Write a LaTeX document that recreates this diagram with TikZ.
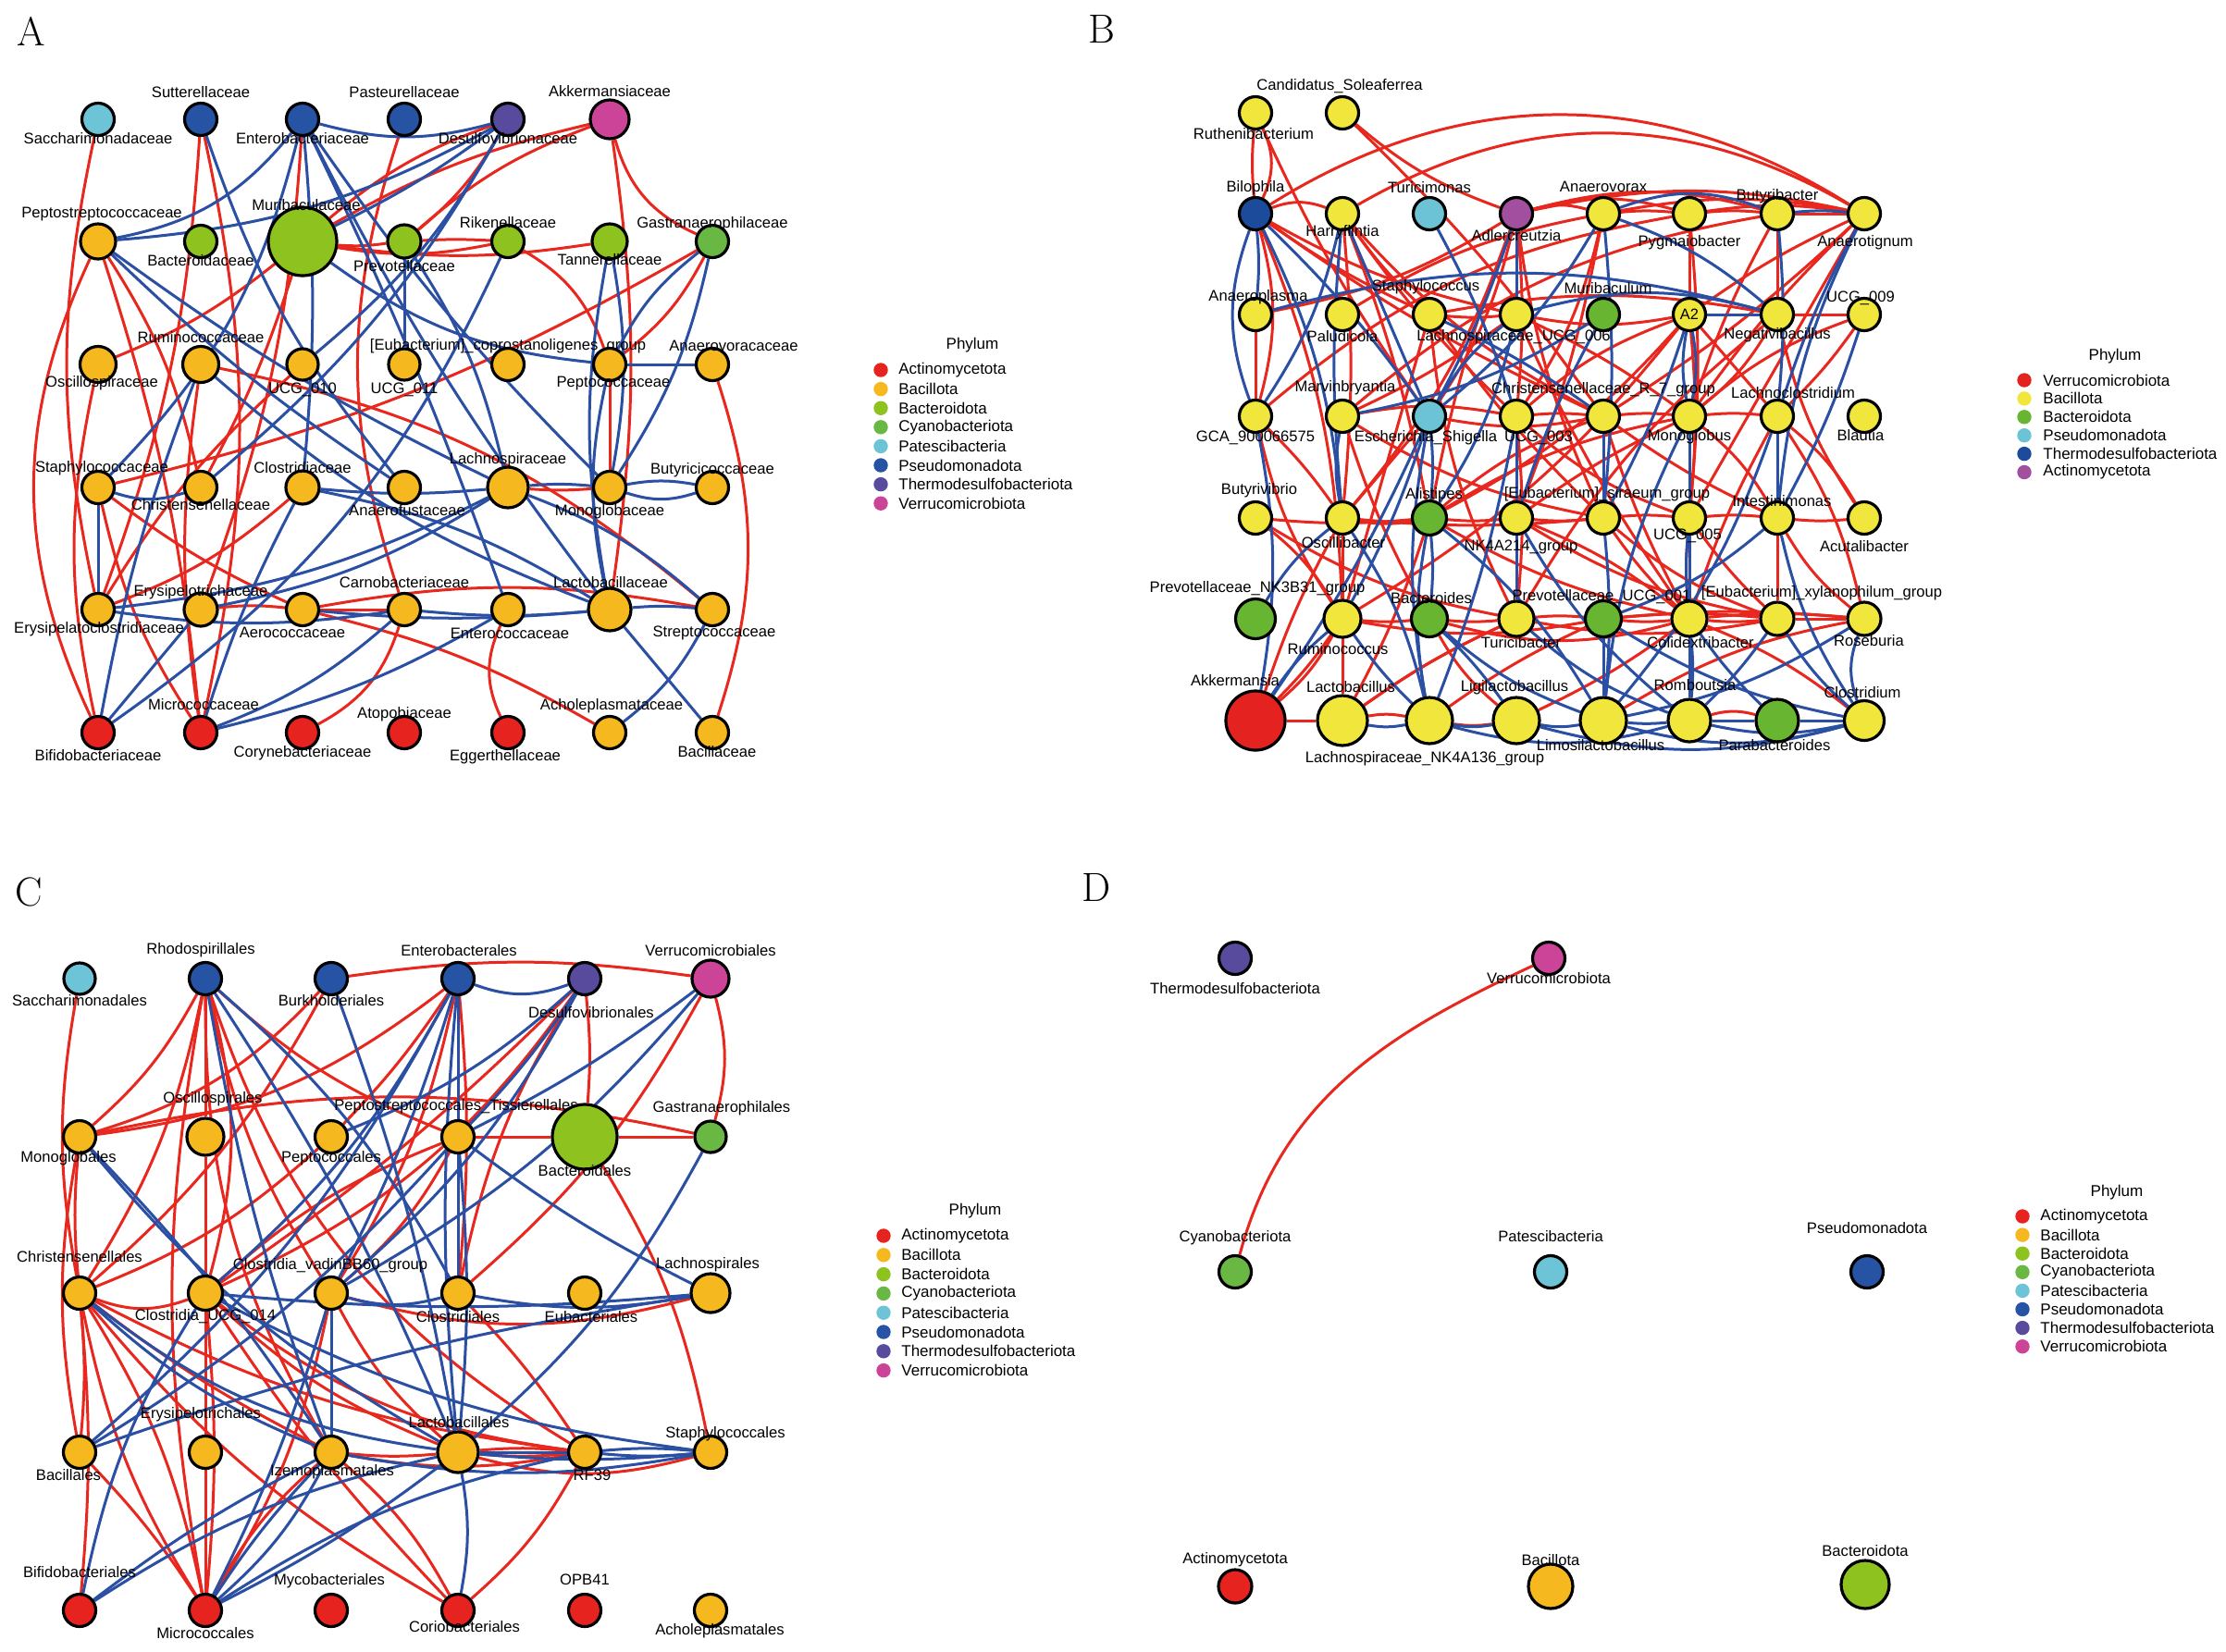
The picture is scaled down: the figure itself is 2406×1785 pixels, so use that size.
\documentclass[tikz,border=0pt]{standalone}
\usepackage{fontspec}
\setsansfont{Liberation Sans}
\pgfdeclarelayer{edges}
\pgfsetlayers{edges,main}
\definecolor{act}{RGB}{230,35,31}
\definecolor{bac}{RGB}{245,184,31}
\definecolor{bdt}{RGB}{141,194,31}
\definecolor{cya}{RGB}{105,184,67}
\definecolor{pat}{RGB}{108,196,214}
\definecolor{pse}{RGB}{38,83,164}
\definecolor{thd}{RGB}{88,74,156}
\definecolor{ver}{RGB}{203,68,151}
\definecolor{Bver}{RGB}{228,35,32}
\definecolor{Bbac}{RGB}{241,230,60}
\definecolor{Bbdt}{RGB}{103,181,49}
\definecolor{Bpse}{RGB}{108,195,214}
\definecolor{Bthe}{RGB}{29,75,155}
\definecolor{Bact}{RGB}{163,79,160}
\definecolor{ered}{RGB}{232,40,30}
\definecolor{eblue}{RGB}{42,79,163}
\tikzset{
  nd/.style={circle, draw=black, line width=1.6pt, inner sep=0pt},
  lbl/.style={font=\sffamily\fontsize{8.3}{9}\selectfont, inner sep=0pt, text height=6pt, text depth=1.6pt},
  er/.style={draw=ered, line width=1.5pt},
  eb/.style={draw=eblue, line width=1.5pt},
  ldot/.style={circle, inner sep=0pt, minimum size=7.7pt},
  ltxt/.style={font=\sffamily\fontsize{8.5}{10}\selectfont, anchor=west, inner sep=0pt},
  ltit/.style={font=\sffamily\fontsize{8.5}{10}\selectfont, inner sep=0pt},
  plet/.style={font=\rmfamily\fontsize{22}{24}\selectfont, inner sep=0pt}
}
\newcommand\mk[8]{%
  \node[nd, minimum size=#4pt, fill=#5] (#1) at (#2,-#3) {};
  \node[lbl] (#1t) at ({#2+(#7)},{-#3-(#8)}) {#6};}
\begin{document}
\begin{tikzpicture}[x=0.5pt,y=0.5pt]
\useasboundingbox (0,0) rectangle (2406,-1785);
% ---------------- panel letters
\node[plet] (LA) at (34,-34) {A};
\node[plet] (LB) at (1191,-31) {B};
\node[plet] (LC) at (31,-964) {C};
\node[plet] (LD) at (1185,-959) {D};
% ---------------- Panel A nodes
\mk{a11}{106}{129}{17.5}{pat}{Saccharimonadaceae}{0}{22}
\mk{a12}{217}{129}{17.5}{pse}{Sutterellaceae}{0}{-28}
\mk{a13}{327}{129}{17.5}{pse}{Enterobacteriaceae}{0}{22}
\mk{a14}{437}{129}{17.5}{pse}{Pasteurellaceae}{0}{-28}
\mk{a15}{549}{129}{17.5}{thd}{Desulfovibrionaceae}{0}{22}
\mk{a16}{659}{129}{21}{ver}{Akkermansiaceae}{0}{-29}
\mk{a21}{106}{261}{19}{bac}{Peptostreptococcaceae}{4}{-30}
\mk{a22}{217}{261}{17.5}{bdt}{Bacteroidaceae}{0}{22}
\mk{a23}{327}{261}{37}{bdt}{Muribaculaceae}{4}{-38}
\mk{a24}{437}{261}{18}{bdt}{Prevotellaceae}{0}{28}
\mk{a25}{549}{261}{17.5}{bdt}{Rikenellaceae}{0}{-19}
\mk{a26}{659}{261}{19}{bdt}{Tannerellaceae}{0}{21}
\mk{a27}{770}{261}{17.5}{cya}{Gastranaerophilaceae}{0}{-19}
\mk{a31}{106}{394}{19.5}{bac}{Oscillospiraceae}{4}{20}
\mk{a32}{217}{394}{19.5}{bac}{Ruminococcaceae}{0}{-28}
\mk{a33}{327}{394}{17}{bac}{UCG\_010}{0}{27}
\mk{a34}{437}{394}{17}{bac}{UCG\_011}{0}{27}
\mk{a35}{549}{394}{17.5}{bac}{[Eubacterium]\_coprostanoligenes\_group}{0}{-20}
\mk{a36}{659}{394}{17.5}{bac}{Peptococcaceae}{4}{20}
\mk{a37}{770}{394}{17.5}{bac}{Anaerovoracaceae}{23}{-19}
\mk{a41}{106}{527}{17.5}{bac}{Staphylococcaceae}{4}{-21}
\mk{a42}{217}{527}{17.5}{bac}{Christensenellaceae}{0}{20}
\mk{a43}{327}{527}{18}{bac}{Clostridiaceae}{0}{-20}
\mk{a44}{437}{527}{17.5}{bac}{Anaerofustaceae}{3}{26}
\mk{a45}{549}{527}{22}{bac}{Lachnospiraceae}{0}{-30}
\mk{a46}{659}{527}{17.5}{bac}{Monoglobaceae}{0}{26}
\mk{a47}{770}{527}{17.5}{bac}{Butyricicoccaceae}{0}{-19}
\mk{a51}{106}{659}{17.5}{bac}{Erysipelatoclostridiaceae}{1}{21}
\mk{a52}{217}{659}{18}{bac}{Erysipelotrichaceae}{0}{-19}
\mk{a53}{327}{659}{17.5}{bac}{Aerococcaceae}{-11}{26}
\mk{a54}{437}{659}{17.5}{bac}{Carnobacteriaceae}{0}{-28}
\mk{a55}{549}{659}{17.5}{bac}{Enterococcaceae}{2}{27}
\mk{a56}{659}{659}{23}{bac}{Lactobacillaceae}{1}{-28}
\mk{a57}{770}{659}{17.5}{bac}{Streptococcaceae}{2}{25}
\mk{a61}{106}{792}{17.5}{act}{Bifidobacteriaceae}{0}{26}
\mk{a62}{217}{792}{17.5}{act}{Micrococcaceae}{3}{-29}
\mk{a63}{327}{792}{17.5}{act}{Corynebacteriaceae}{0}{22}
\mk{a64}{437}{792}{17.5}{act}{Atopobiaceae}{0}{-20}
\mk{a65}{549}{792}{17.5}{act}{Eggerthellaceae}{-3}{26}
\mk{a66}{659}{792}{17.5}{bac}{Acholeplasmataceae}{2}{-29}
\mk{a67}{770}{792}{17.5}{bac}{Bacillaceae}{5}{22}
% ---------------- Panel B nodes
\mk{b11}{1357}{122}{17.5}{Bbac}{Ruthenibacterium}{-2}{24}
\mk{b12}{1451}{122}{17.5}{Bbac}{Candidatus\_Soleaferrea}{-3}{-29}
\mk{b21}{1357}{231}{17.5}{Bthe}{Bilophila}{0}{-28}
\mk{b22}{1451}{231}{17.5}{Bbac}{Harryflintia}{0}{20}
\mk{b23}{1545}{231}{17.5}{Bpse}{Turicimonas}{0}{-27}
\mk{b24}{1639}{231}{17.5}{Bact}{Adlercreutzia}{0}{25}
\mk{b25}{1733}{231}{17.5}{Bbac}{Anaerovorax}{0}{-28}
\mk{b26}{1826}{231}{17.5}{Bbac}{Pygmaiobacter}{0}{31}
\mk{b27}{1921}{231}{17.5}{Bbac}{Butyribacter}{0}{-19}
\mk{b28}{2015}{231}{17.5}{Bbac}{Anaerotignum}{1}{31}
\mk{b31}{1357}{340}{17.5}{Bbac}{Anaeroplasma}{3}{-19}
\mk{b32}{1451}{340}{17.5}{Bbac}{Paludicola}{0}{25}
\mk{b33}{1545}{340}{17.5}{Bbac}{Staphylococcus}{-4}{-30}
\mk{b34}{1639}{340}{17.5}{Bbac}{Lachnospiraceae\_UCG\_006}{-3}{24}
\mk{b35}{1733}{340}{17.5}{Bbdt}{Muribaculum}{5}{-27}
\node[nd, minimum size=17.5pt, fill=Bbac, font=\sffamily\fontsize{8.2}{9}\selectfont] (b36) at (1826,-340) {A2};
\mk{b37}{1921}{340}{17.5}{Bbac}{Negativibacillus}{0}{22}
\mk{b38}{2015}{340}{17.5}{Bbac}{UCG\_009}{-4}{-18}
\mk{b41}{1357}{450}{17.5}{Bbac}{GCA\_900066575}{0}{23}
\mk{b42}{1451}{450}{17.5}{Bbac}{Marvinbryantia}{3}{-31}
\mk{b43}{1545}{450}{17.5}{Bpse}{Escherichia\_Shigella}{-4}{23}
\mk{b44}{1639}{450}{17.5}{Bbac}{UCG\_003}{24}{23}
\mk{b45}{1733}{450}{17.5}{Bbac}{Christensenellaceae\_R\_7\_group}{0}{-29}
\mk{b46}{1826}{450}{17.5}{Bbac}{Monoglobus}{0}{22}
\mk{b47}{1921}{450}{17.5}{Bbac}{Lachnoclostridium}{17}{-24}
\mk{b48}{2015}{450}{17.5}{Bbac}{Blautia}{-4}{22}
\mk{b51}{1357}{560}{17.5}{Bbac}{Butyrivibrio}{4}{-30}
\mk{b52}{1451}{560}{17.5}{Bbac}{Oscillibacter}{1}{28}
\mk{b53}{1545}{560}{18.5}{Bbdt}{Alistipes}{5}{-25}
\mk{b54}{1639}{560}{17.5}{Bbac}{NK4A214\_group}{5}{31}
\mk{b55}{1733}{560}{17.5}{Bbac}{[Eubacterium]\_siraeum\_group}{4}{-26}
\mk{b56}{1826}{560}{17.5}{Bbac}{UCG\_005}{-2}{19}
\mk{b57}{1921}{560}{17.5}{Bbac}{Intestinimonas}{5}{-17}
\mk{b58}{2015}{560}{17.5}{Bbac}{Acutalibacter}{0}{32}
\mk{b61}{1357}{669}{21.5}{Bbdt}{Prevotellaceae\_NK3B31\_group}{2}{-33}
\mk{b62}{1451}{669}{20}{Bbac}{Ruminococcus}{-5}{34}
\mk{b63}{1545}{669}{19.5}{Bbdt}{Bacteroides}{2}{-21}
\mk{b64}{1639}{669}{19}{Bbac}{Turicibacter}{5}{27}
\mk{b65}{1733}{669}{19.5}{Bbdt}{Prevotellaceae\_UCG\_001}{-2}{-24}
\mk{b66}{1826}{669}{19}{Bbac}{Colidextribacter}{12}{27}
\mk{b67}{1921}{669}{18}{Bbac}{[Eubacterium]\_xylanophilum\_group}{48}{-28}
\mk{b68}{2015}{669}{18}{Bbac}{Roseburia}{5}{25}
\mk{b71}{1357}{779}{32}{Bver}{Akkermansia}{-22}{-42}
\mk{b72}{1451}{779}{27}{Bbac}{Lactobacillus}{9}{-35}
\mk{b73}{1545}{779}{25}{Bbac}{Lachnospiraceae\_NK4A136\_group}{-5}{41}
\mk{b74}{1639}{779}{25}{Bbac}{Ligilactobacillus}{-2}{-36}
\mk{b75}{1733}{779}{25}{Bbac}{Limosilactobacillus}{-3}{28}
\mk{b76}{1826}{779}{23}{Bbac}{Romboutsia}{6}{-37}
\mk{b77}{1921}{779}{23}{Bbdt}{Parabacteroides}{-3}{28}
\mk{b78}{2015}{779}{21.5}{Bbac}{Clostridium}{-2}{-29}
% ---------------- Panel C nodes
\mk{c11}{86}{1058}{17}{pat}{Saccharimonadales}{0}{25}
\mk{c12}{222}{1058}{17.5}{pse}{Rhodospirillales}{-5}{-31}
\mk{c13}{358}{1058}{17.5}{pse}{Burkholderiales}{0}{25}
\mk{c14}{495}{1058}{17.5}{pse}{Enterobacterales}{1}{-29}
\mk{c15}{632}{1058}{17.5}{thd}{Desulfovibrionales}{7}{38}
\mk{c16}{768}{1058}{20}{ver}{Verrucomicrobiales}{0}{-29}
\mk{c21}{86}{1229}{17.5}{bac}{Monoglobales}{-12}{23}
\mk{c22}{222}{1229}{20}{bac}{Oscillospirales}{8}{-41}
\mk{c23}{358}{1229}{17.5}{bac}{Peptococcales}{0}{23}
\mk{c24}{495}{1229}{17.5}{bac}{Peptostreptococcales\_Tissierellales}{-2}{-33}
\mk{c25}{632}{1229}{35}{bdt}{Bacteroidales}{0}{38}
\mk{c26}{768}{1229}{17}{cya}{Gastranaerophilales}{12}{-31}
\mk{c31}{86}{1398}{17.5}{bac}{Christensenellales}{0}{-38}
\mk{c32}{222}{1398}{18.5}{bac}{Clostridia\_UCG\_014}{0}{25}
\mk{c33}{358}{1398}{17.5}{bac}{Clostridia\_vadinBB60\_group}{-1}{-30}
\mk{c34}{495}{1398}{17.5}{bac}{Clostridiales}{0}{27}
\mk{c35}{632}{1398}{17.5}{bac}{Eubacteriales}{7}{27}
\mk{c36}{768}{1398}{21}{bac}{Lachnospirales}{-3}{-31}
\mk{c41}{86}{1570}{17.5}{bac}{Bacillales}{-12}{26}
\mk{c42}{222}{1570}{17.5}{bac}{Erysipelotrichales}{-5}{-41}
\mk{c43}{358}{1570}{17.5}{bac}{Izemoplasmatales}{1}{21}
\mk{c44}{495}{1570}{22}{bac}{Lactobacillales}{1}{-31}
\mk{c45}{632}{1570}{17.5}{bac}{RF39}{8}{26}
\mk{c46}{768}{1570}{17.5}{bac}{Staphylococcales}{16}{-20}
\mk{c51}{86}{1741}{17.5}{act}{Bifidobacteriales}{0}{-40}
\mk{c52}{222}{1741}{17.5}{act}{Micrococcales}{0}{26}
\mk{c53}{358}{1741}{17.5}{act}{Mycobacteriales}{-2}{-32}
\mk{c54}{495}{1741}{17.5}{act}{Coriobacteriales}{7}{19}
\mk{c55}{632}{1741}{17.5}{act}{OPB41}{0}{-32}
\mk{c56}{768}{1741}{17.5}{bac}{Acholeplasmatales}{10}{22}
% ---------------- Panel D nodes
\mk{d1}{1335}{1036}{17.5}{thd}{Thermodesulfobacteriota}{0}{34}
\mk{d2}{1674}{1036}{17.5}{ver}{Verrucomicrobiota}{0}{23}
\mk{d3}{1335}{1375}{17.5}{cya}{Cyanobacteriota}{0}{-37}
\mk{d4}{1676}{1375}{17.5}{pat}{Patescibacteria}{0}{-37}
\mk{d5}{2018}{1375}{17.5}{pse}{Pseudomonadota}{0}{-46}
\mk{d6}{1335}{1715}{18}{act}{Actinomycetota}{0}{-29}
\mk{d7}{1676}{1715}{24}{bac}{Bacillota}{0}{-27}
\mk{d8}{2016}{1713}{26}{bdt}{Bacteroidota}{0}{-35}
% ---------------- Legends
\node[ltit] (PA) at (1051,-373) {Phylum};
\foreach \i/\c/\t in {0/act/Actinomycetota,1/bac/Bacillota,2/bdt/Bacteroidota,3/cya/Cyanobacteriota,4/pat/Patescibacteria,5/pse/Pseudomonadota,6/thd/Thermodesulfobacteriota,7/ver/Verrucomicrobiota}{
  \node[ldot, fill=\c] (LAd\i) at (952,{-(400+20.6*\i)}) {};
  \node[ltxt] (LAt\i) at (971,{-(400+20.6*\i)}) {\t};
  \node[ldot, fill=\c] (LCd\i) at (955,{-(1336+20.8*\i)}) {};
  \node[ltxt] (LCt\i) at (974,{-(1336+20.8*\i)}) {\t};
  \node[ldot, fill=\c] (LDd\i) at (2186,{-(1315+20.1*\i)}) {};
  \node[ltxt] (LDt\i) at (2205,{-(1315+20.1*\i)}) {\t};
}
\node[ltit] (PC) at (1054,-1309) {Phylum};
\node[ltit] (PD) at (2288,-1289) {Phylum};
\node[ltit] (PB) at (2286,-385) {Phylum};
\foreach \i/\c/\t in {0/Bver/Verrucomicrobiota,1/Bbac/Bacillota,2/Bbdt/Bacteroidota,3/Bpse/Pseudomonadota,4/Bthe/Thermodesulfobacteriota,5/Bact/Actinomycetota}{
  \node[ldot, fill=\c] (LBd\i) at (2188,{-(411+19.9*\i)}) {};
  \node[ltxt] (LBt\i) at (2208,{-(411+19.9*\i)}) {\t};
}
% ---------------- Edges
\begin{pgfonlayer}{edges}
\fill[white] (0,0) rectangle (2406,-1785);
% Panel A red
\foreach \u/\v/\b in {a11/a51/-12,a12/a51/8,a12/a62/12,a13/a52/8,a14/a54/-18,a21/a61/-25,a21/a42/10,a21/a62/6,a23/a31/8,a23/a24/-6,a23/a25/-10,a23/a26/-8,a23/a15/10,a23/a16/8,a23/a42/5,a15/a24/10,a16/a56/8,a16/a27/-25,a16/a24/-10,a25/a36/20,a24/a25/3,a41/a27/-8,a27/a36/12,a36/a46/0,a37/a67/18,a45/a46/-4,a43/a51/10,a32/a57/14,a41/a53/-6,a41/a62/-10,a52/a53/6,a53/a54/0,a54/a63/22,a55/a65/-25,a53/a66/8,a53/a57/10,a51/a33/8,a31/a61/-12,a32/a62/-8}
  {\draw[er] (\u) to[bend left=\b] (\v);}
% Panel A blue
\foreach \u/\v/\b in {a12/a44/-10,a13/a21/20,a13/a15/-15,a13/a56/-5,a13/a46/-5,a13/a55/3,a21/a45/-5,a21/a44/-5,a21/a15/-12,a25/a61/15,a15/a23/5,a15/a33/10,a15/a42/10,a23/a36/-15,a24/a45/10,a24/a34/0,a26/a46/10,a26/a56/-10,a27/a36/-12,a27/a46/10,a36/a37/0,a36/a56/-12,a43/a45/-5,a43/a13/-5,a43/a56/10,a41/a42/-18,a41/a51/0,a51/a54/-8,a51/a45/-10,a52/a45/-10,a53/a56/-5,a54/a56/-5,a45/a46/5,a45/a57/10,a46/a47/-18,a46/a47/10,a56/a57/5,a56/a67/0,a57/a66/12,a62/a54/-10,a62/a55/-8,a61/a32/5,a62/a43/5,a61/a52/0,a32/a56/-10,a13/a41/15}
  {\draw[eb] (\u) to[bend left=\b] (\v);}
% Panel B red
\foreach \u/\v/\b in {b11/b21/25,b11/b21/-5,b11/b43/-5,b12/b24/-10,b12/b45/5,b21/b28/32,b22/b28/30,b21/b22/20,b21/b33/-5,b21/b34/-8,b21/b45/-5,b21/b62/10,b21/b41/15,b22/b33/-5,b22/b44/-5,b22/b53/5,b22/b45/-10,b22/b52/5,b24/b25/15,b24/b26/15,b24/b27/15,b24/b28/12,b24/b43/10,b24/b52/10,b24/b53/-5,b24/b44/5,b24/b55/-8,b25/b26/5,b25/b28/10,b25/b44/10,b25/b54/5,b25/b32/-10,b26/b27/5,b26/b28/8,b26/b36/0,b26/b56/5,b26/b41/-15,b27/b28/0,b27/b37/0,b27/b46/-5,b27/b42/-15,b28/b36/-5,b28/b46/-5,b28/b56/0,b28/b45/5,b31/b41/0,b31/b24/-10,b33/b34/-5,b33/b37/10,b33/b62/0,b33/b55/-5,b33/b64/-10,b34/b36/-10,b34/b46/5,b34/b66/-5,b34/b42/5,b36/b44/-10,b36/b56/5,b36/b53/10,b36/b62/10,b36/b47/0,b37/b38/0,b37/b58/-10,b37/b46/10,b37/b64/-10,b38/b46/-10,b38/b47/5,b41/b52/5,b41/b62/-10,b42/b44/10,b42/b55/-10,b42/b63/-5,b43/b52/0,b43/b45/-10,b44/b45/5,b44/b56/-10,b44/b64/5,b45/b46/5,b45/b53/-10,b45/b57/-5,b45/b66/-5,b46/b47/5,b46/b53/-10,b46/b54/-5,b46/b57/10,b47/b58/10,b47/b66/-5,b47/b68/10,b51/b62/10,b51/b64/-10,b51/b53/-5,b52/b53/-10,b52/b55/-5,b52/b72/0,b53/b54/-5,b53/b66/-8,b53/b72/5,b54/b55/-5,b54/b66/8,b54/b67/-10,b55/b56/5,b55/b66/-5,b55/b67/-10,b56/b57/5,b56/b66/-5,b56/b67/-5,b57/b58/-5,b57/b67/0,b57/b68/-10,b62/b63/-5,b62/b71/10,b62/b65/-10,b63/b64/-5,b63/b74/-10,b63/b66/-15,b64/b65/5,b64/b67/-10,b64/b72/-5,b65/b66/-5,b65/b67/5,b65/b68/5,b66/b67/-5,b66/b68/5,b66/b74/5,b67/b68/0,b66/b78/8,b71/b72/0,b71/b62/-5,b71/b52/5,b72/b73/10,b72/b64/5,b73/b74/-8,b73/b65/5,b76/b77/15,b75/b68/10}
  {\draw[er] (\u) to[bend left=\b] (\v);}
% Panel B blue
\foreach \u/\v/\b in {b21/b31/5,b21/b41/-20,b21/b43/5,b21/b52/10,b22/b41/10,b22/b43/0,b22/b52/-5,b23/b44/5,b24/b34/0,b24/b43/5,b25/b27/20,b25/b37/10,b25/b43/10,b25/b55/5,b27/b47/5,b27/b28/5,b28/b47/-5,b28/b57/-10,b31/b37/15,b33/b45/5,b34/b37/15,b34/b43/-10,b34/b53/10,b35/b42/10,b35/b54/-5,b36/b37/0,b36/b46/-10,b36/b46/10,b36/b55/5,b38/b57/5,b42/b52/-10,b43/b53/5,b43/b62/5,b43/b73/-10,b44/b54/0,b44/b73/5,b45/b55/0,b46/b56/0,b46/b75/-10,b47/b57/0,b47/b75/10,b52/b73/10,b53/b63/5,b53/b73/-10,b53/b75/10,b54/b64/0,b54/b76/-10,b55/b75/5,b56/b66/-5,b56/b76/0,b57/b78/-10,b57/b65/10,b61/b52/10,b62/b73/-5,b63/b75/-10,b63/b74/5,b64/b76/-10,b65/b75/0,b65/b78/-10,b66/b76/5,b66/b77/-5,b67/b78/-8,b67/b76/5,b68/b78/-20,b68/b75/10,b71/b43/-5,b71/b62/8,b72/b73/-10,b73/b74/-10,b74/b75/-10,b75/b76/-5,b76/b77/0,b77/b78/0,b76/b78/-12,b75/b78/-15,b74/b78/-15,b73/b76/-15,b41/b71/10}
  {\draw[eb] (\u) to[bend left=\b] (\v);}
% Panel C red
\foreach \u/\v/\b in {c11/c31/-10,c12/c21/10,c12/c31/10,c12/c32/15,c12/c22/0,c12/c52/-10,c12/c43/-15,c12/c45/-20,c12/c24/-10,c12/c33/-10,c13/c21/15,c13/c31/10,c13/c16/8,c21/c31/-5,c21/c41/-10,c21/c14/-15,c21/c26/12,c22/c32/0,c31/c41/5,c31/c51/5,c31/c52/10,c31/c52/-10,c31/c32/-20,c31/c43/-5,c31/c45/-10,c31/c54/-10,c31/c23/-10,c32/c42/0,c32/c52/5,c32/c24/10,c32/c44/-10,c32/c45/-15,c32/c15/-15,c32/c54/-5,c33/c14/-10,c33/c44/-10,c33/c36/-15,c33/c52/10,c41/c52/5,c42/c52/0,c43/c44/-5,c43/c45/-10,c43/c52/-10,c43/c54/10,c44/c45/-5,c44/c45/5,c44/c46/-15,c45/c54/10,c14/c23/5,c14/c34/5,c15/c25/5,c15/c32/5,c15/c34/-10,c16/c26/15,c16/c34/10,c24/c25/0,c24/c33/10,c25/c26/0,c25/c46/10,c34/c45/5}
  {\draw[er] (\u) to[bend left=\b] (\v);}
% Panel C blue
\foreach \u/\v/\b in {c12/c44/5,c12/c43/-5,c12/c34/10,c13/c44/5,c14/c15/-20,c14/c24/0,c14/c33/5,c14/c32/10,c14/c44/-5,c14/c41/10,c15/c24/5,c15/c33/10,c15/c23/10,c16/c24/5,c16/c33/10,c21/c44/-10,c21/c43/5,c24/c34/0,c24/c36/-5,c24/c44/5,c24/c41/8,c26/c44/10,c31/c43/-10,c31/c44/-15,c32/c46/-10,c32/c36/-5,c33/c43/0,c33/c34/-15,c34/c36/-10,c36/c41/-5,c43/c46/-10,c43/c52/10,c44/c46/-5,c44/c54/10,c45/c46/5,c45/c46/-5,c44/c45/0,c51/c44/10,c51/c43/5,c51/c32/10,c52/c44/-5,c52/c33/-5,c52/c43/5,c52/c45/10}
  {\draw[eb] (\u) to[bend left=\b] (\v);}
% Panel D
\draw[er] (d2) to[out=205,in=75] (d3);
\end{pgfonlayer}
\end{tikzpicture}
\end{document}
